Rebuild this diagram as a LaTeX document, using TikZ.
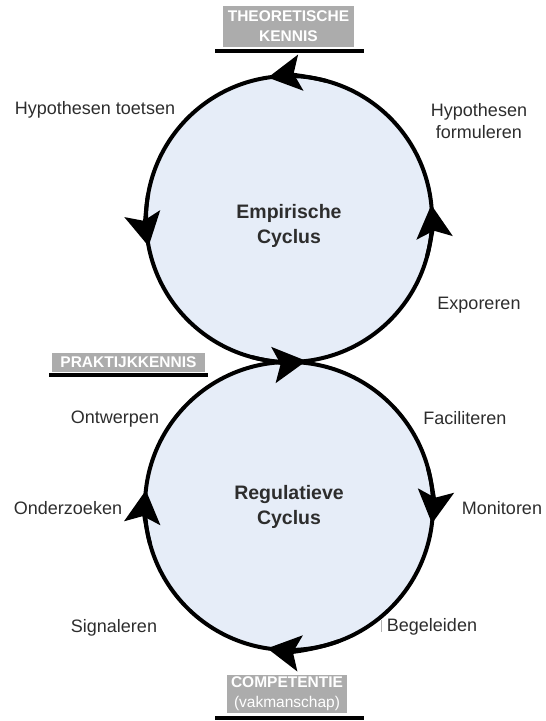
\documentclass[tikz,border=0pt]{standalone}
\usepackage{fontspec}
\setmainfont{Liberation Sans}
\usetikzlibrary{arrows.meta}
\definecolor{cyclusblauw}{RGB}{230,237,248}
\definecolor{vakgrijs}{RGB}{172,172,172}
\definecolor{tekstgrijs}{RGB}{45,45,45}
\tikzset{kop/.tip={Stealth[length=33pt,width=36pt,inset=7pt]}}

\begin{document}
\begin{tikzpicture}[x=1pt, y=1pt,
    cyclus/.style={line width=4pt, fill=cyclusblauw},
    pijl/.style={line width=4pt, -{kop}},
    lbl/.style={text=tekstgrijs, inner sep=0pt, align=center,
        font=\fontsize{18}{22.5}\selectfont},
    titel/.style={lbl, font=\fontsize{19.5}{25}\selectfont\bfseries},
    vak/.style={fill=vakgrijs, text=white, inner sep=0pt, align=center,
        font=\fontsize{15.5}{20}\selectfont\bfseries},
    balk/.style={line width=4pt}]
\useasboundingbox (0,0) rectangle (546,-721);

\coordinate (ce) at (289,-219);
\coordinate (cr) at (289,-506);

% regulatieve cyclus (met de klok mee)
\draw[cyclus] (cr) circle (144);
\draw[pijl] (cr) ++(15:144) arc[start angle=15, end angle=-7, radius=144];
\draw[pijl] (cr) ++(-70:144) arc[start angle=-70, end angle=-98.7, radius=144];
\draw[pijl] (cr) ++(195:144) arc[start angle=195, end angle=173.7, radius=144];
% empirische cyclus (tegen de klok in)
\draw[cyclus] (ce) circle (143);
\draw[pijl] (ce) ++(-15:143) arc[start angle=-15, end angle=5.7, radius=143];
\draw[pijl] (ce) ++(75:143) arc[start angle=75, end angle=98.5, radius=143];
\draw[pijl] (ce) ++(170:143) arc[start angle=170, end angle=191, radius=143];
\draw[pijl] (ce) ++(255:143) arc[start angle=255, end angle=277, radius=143];

\node[titel] (emp) at (ce) [yshift=-7pt] {Empirische\\Cyclus};
\node[titel] (reg) at (cr) [yshift=-1pt] {Regulatieve\\Cyclus};

% kennisvormen
\node[vak, minimum width=131pt, minimum height=41pt] (tk) at (288.5,-26.5) {THEORETISCHE\\KENNIS};
\draw[balk] (215,-50.5) -- (364,-50.5);
\node[vak, minimum width=153pt, minimum height=19pt] (pk) at (128.5,-362.5) {PRAKTIJKKENNIS};
\draw[balk] (49,-375) -- (208,-375);
\node[vak, minimum width=120pt, minimum height=38pt] (cp) at (287,-694) {COMPETENTIE\\{\mdseries(vakmanschap)}};
\draw[balk] (215,-718) -- (364,-718);

% stappen
\node[lbl] (toe) at (95,-110) {Hypothesen toetsen};
\node[lbl] (for) at (479,-121) {Hypothesen\\formuleren};
\node[lbl] (exp) at (479,-305) {Exporeren};
\node[lbl] (ont) at (115,-419) {Ontwerpen};
\node[lbl] (fac) at (465,-418) {Faciliteren};
\node[lbl] (ond) at (68,-508) {Onderzoeken};
\node[lbl] (mon) at (502,-508) {Monitoren};
\node[lbl] (sig) at (114,-628) {Signaleren};
\node[lbl] (beg) at (432,-627) {Begeleiden};
\draw[gray!60, line width=0.8pt] (381,-620) -- (381,-632);
\end{tikzpicture}
\end{document}
